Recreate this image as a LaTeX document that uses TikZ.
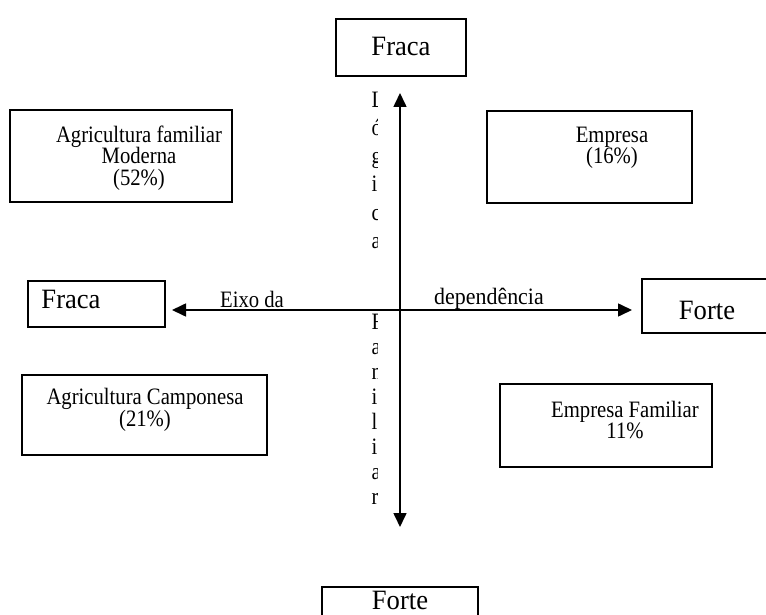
\documentclass[tikz,border=0pt]{standalone}
\usepackage{fontspec}
\setmainfont{Liberation Serif}
\newfontfamily\condfont[FakeStretch=0.88]{Liberation Serif}
\newfontfamily\bigcondfont[FakeStretch=0.95]{Liberation Serif}
\usetikzlibrary{arrows.meta}
\newcommand{\bigtxt}{\bigcondfont\fontsize{28}{30}\selectfont}
\newcommand{\smalltxt}{\condfont\fontsize{23.5}{21.5}\selectfont}
\begin{document}
\begin{tikzpicture}[x=1pt,y=-1pt,
  boxframe/.style={draw=black,line width=1.5pt,inner sep=0pt},
  bigtext/.style={font=\bigtxt,inner sep=0pt},
  smalltext/.style={font=\smalltxt,align=center,inner sep=0pt},
  vletter/.style={font=\smalltxt,inner sep=0pt,anchor=base west},
  axis/.style={line width=1.6pt,{Triangle[length=14pt,width=13pt]}-{Triangle[length=14pt,width=13pt]}}]
\useasboundingbox (0,0) rectangle (766,615);
% boxes
\draw[boxframe] (336,19) rectangle (466,76);
\node[bigtext] (tfraca) at (401,46) {Fraca};
\draw[boxframe] (10,110) rectangle (232,202);
\node[smalltext] (afm) at (139,158) {Agricultura familiar\\Moderna\\(52\%)};
\draw[boxframe] (487,111) rectangle (692,203);
\node[smalltext] (emp) at (612,148) {Empresa\\(16\%)};
\draw[boxframe] (28,281) rectangle (165,327);
\node[bigtext] (lfraca) at (71,299) {Fraca};
\draw[boxframe] (642,279) rectangle (775,333);
\node[bigtext] (rforte) at (707,310) {Forte};
\draw[boxframe] (22,375) rectangle (267,455);
\node[smalltext] (acamp) at (145,410) {Agricultura Camponesa\\(21\%)};
\draw[boxframe] (500,384) rectangle (712,467);
\node[smalltext] (efam) at (625,420) {Empresa Familiar\\11\%};
\draw[boxframe] (322,587) rectangle (478,625);
\node[bigtext,anchor=base] (bforte) at (400,609) {Forte};
% axis labels
\node[smalltext] (eixo) at (252,299) {Eixo da};
\node[smalltext,xscale=1.06] (dep) at (489,299) {dependência};
% axes
\coordinate (west) at (172,310);
\coordinate (east) at (632,310);
\coordinate (north) at (400,93);
\coordinate (south) at (400,527);
\draw[axis] (west) -- (east);
\draw[axis] (north) -- (south);
% vertical clipped text
\begin{scope}
\clip (360,85) rectangle (377,515);
\foreach \ch [count=\i from 0] in {L,ó,g,i,c,a}
  \node[vletter] at (371.5,108+28*\i) {\ch};
\foreach \ch [count=\i from 0] in {F,a,m,i,l,i,a,r}
  \node[vletter] at (371.5,329+25*\i) {\ch};
\end{scope}
\end{tikzpicture}
\end{document}
